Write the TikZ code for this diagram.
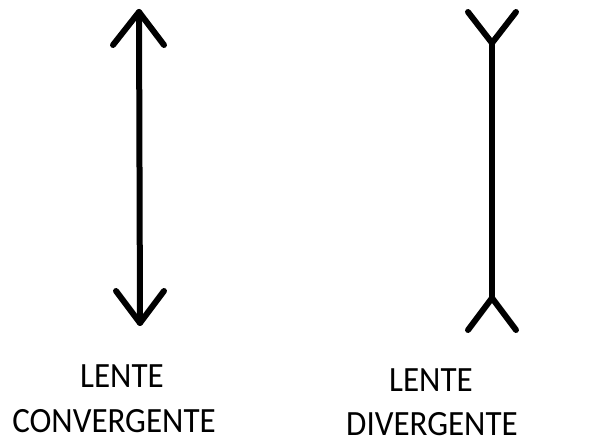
\documentclass[tikz,border=0pt]{standalone}
\usepackage{fontspec}
\setmainfont{Carlito}[FakeStretch=0.93]
\begin{document}
\begin{tikzpicture}[x=1pt,y=-1pt,lens/.style={line width=6pt,line cap=round,line join=round},
  label/.style={anchor=base,inner sep=0pt,text depth=0pt,font=\fontsize{35.5}{40}\selectfont}]
\useasboundingbox (0,0) rectangle (595,443);
% lente convergente
\coordinate (ctop) at (139,12);
\coordinate (cbot) at (140,323);
\draw [lens] (ctop)--(cbot);
\draw [lens] (113,45)--(ctop)--(164,45);
\draw [lens] (116,291)--(cbot)--(164,291);
% lente divergente
\coordinate (dtop) at (492,43);
\coordinate (dbot) at (492,298);
\draw [lens] (dtop)--(dbot);
\draw [lens] (468,12)--(dtop)--(516,12);
\draw [lens] (468,330)--(dbot)--(516,330);
% textos
\node [label] (c1) at (122,388) {LENTE};
\node [label] (c2) at (114,433) {CONVERGENTE};
\node [label] (d1) at (431,392) {LENTE};
\node [label] (d2) at (432,436) {DIVERGENTE};
\end{tikzpicture}
\end{document}
